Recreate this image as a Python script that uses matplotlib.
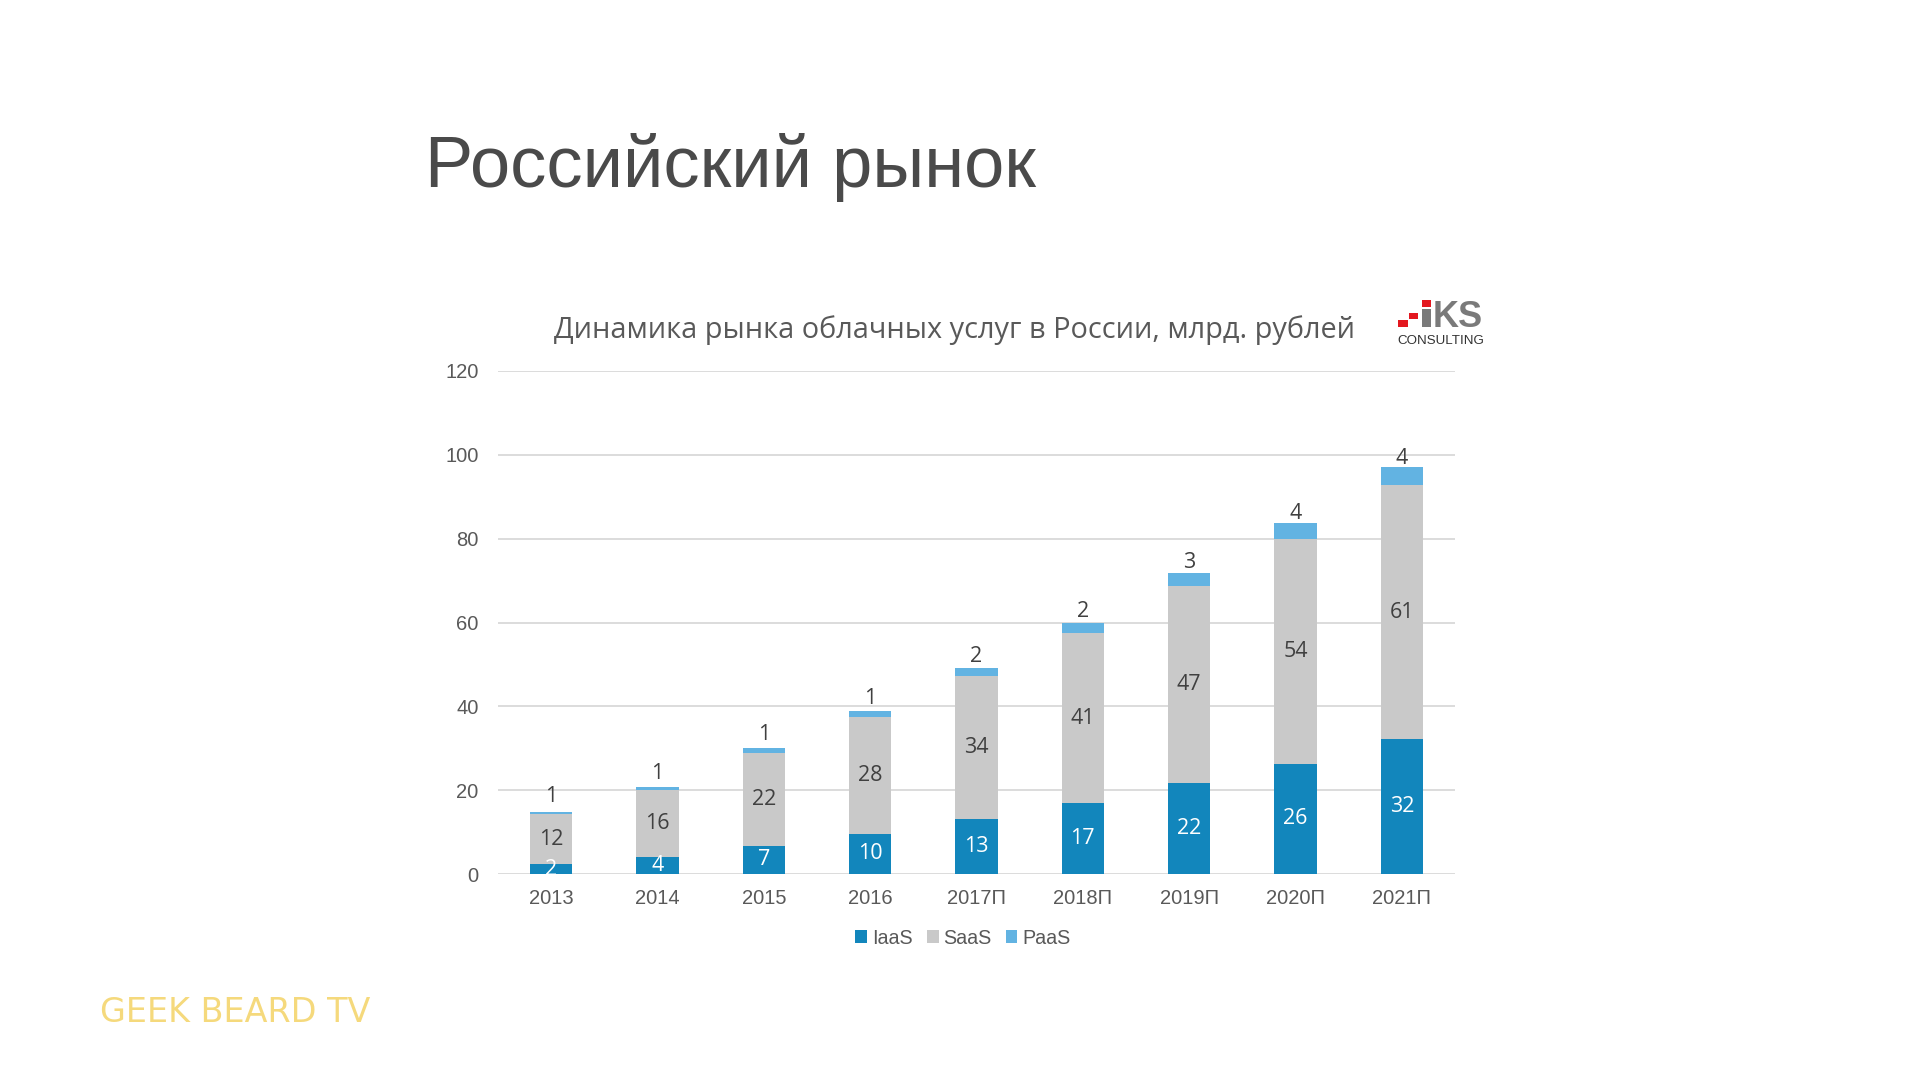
import matplotlib
matplotlib.use("Agg")
import matplotlib.pyplot as plt
from matplotlib.patches import Rectangle
import numpy as np

categories = ["2013", "2014", "2015", "2016", "2017П", "2018П", "2019П", "2020П", "2021П"]
iaas = [2.3, 4.1, 6.7, 9.6, 13.1, 16.9, 21.6, 26.3, 32.1]
saas = [12.0, 16.0, 22.2, 27.8, 34.2, 40.6, 47.0, 53.6, 60.6]
paas = [0.6, 0.6, 1.2, 1.4, 1.8, 2.4, 3.2, 3.8, 4.3]
series_names = ["IaaS", "SaaS", "PaaS"]
yticks = [0, 20, 40, 60, 80, 100, 120]

C_IAAS = "#1286BC"
C_SAAS = "#C9C9C9"
C_PAAS = "#62B3E2"
GRAY_TXT = "#595959"
DARK_TXT = "#404040"

arial = ["Liberation Sans", "DejaVu Sans"]
calib = ["Open Sans", "Noto Sans", "DejaVu Sans"]

fig = plt.figure(figsize=(19.2, 10.8), dpi=100)
fig.patch.set_facecolor("white")

# Slide title
fig.text(425 / 1920, 1 - 187 / 1080, "Российский рынок", family=arial,
         fontsize=52, color="#4A4A4A", ha="left", va="baseline")

# Chart title
fig.text(955 / 1920, 1 - 338 / 1080, "Динамика рынка облачных услуг в России, млрд. рублей",
         family=calib, fontsize=20.8, color=GRAY_TXT, ha="center", va="baseline")

ax = fig.add_axes([498 / 1920, 1 - 874 / 1080, (1455 - 498) / 1920, (874 - 371) / 1080])
x = np.arange(len(categories))
w = 0.395
iaas_a = np.array(iaas)
saas_a = np.array(saas)
paas_a = np.array(paas)

ax.bar(x, iaas_a, w, color=C_IAAS, label=series_names[0], zorder=3)
ax.bar(x, saas_a, w, bottom=iaas_a, color=C_SAAS, label=series_names[1], zorder=3)
ax.bar(x, paas_a, w, bottom=iaas_a + saas_a, color=C_PAAS, label=series_names[2], zorder=3)

for i in range(len(categories)):
    ax.text(x[i], iaas_a[i] / 2, f"{iaas_a[i]:.0f}", ha="center", va="center",
            family=calib, fontsize=15.5, color="white", zorder=4)
    ax.text(x[i], iaas_a[i] + saas_a[i] / 2, f"{saas_a[i]:.0f}", ha="center", va="center",
            family=calib, fontsize=15.5, color=DARK_TXT, zorder=4)
    top = iaas_a[i] + saas_a[i] + paas_a[i]
    ax.annotate(f"{paas_a[i]:.0f}", (x[i], top), xytext=(0, 3 - 0.5 * i), textcoords="offset points",
                ha="center", va="bottom", family=calib, fontsize=15.5, color=DARK_TXT, zorder=4)

ax.set_xlim(-0.5, len(categories) - 0.5)
ax.set_ylim(0, 120)
ax.set_yticks(yticks)
ax.set_xticks(x)
ax.set_xticklabels(categories)
ax.grid(axis="y", color="#D9D9D9", linewidth=1.3, zorder=0)
for s in ax.spines.values():
    s.set_visible(False)
ax.tick_params(axis="both", length=0, labelsize=14.5, labelcolor=GRAY_TXT)
ax.tick_params(axis="y", pad=14)
ax.tick_params(axis="x", pad=11)
for lab in ax.get_xticklabels() + ax.get_yticklabels():
    lab.set_family(arial)

leg = fig.legend(loc="center", bbox_to_anchor=(963 / 1920, 1 - 938 / 1080), ncol=3,
                 frameon=False, handlelength=0.6, handleheight=0.6, handletextpad=0.25,
                 columnspacing=0.7, prop={"family": arial, "size": 14.2})
for t in leg.get_texts():
    t.set_color(GRAY_TXT)

# IKS Consulting logo
def box(x0, y0, x1, y1, color):
    fig.add_artist(Rectangle((x0 / 1920, 1 - y1 / 1080), (x1 - x0) / 1920, (y1 - y0) / 1080,
                             transform=fig.transFigure, color=color, lw=0))

box(1398, 320, 1408, 327, "#E3171F")
box(1409, 313, 1418, 319, "#E3171F")
box(1422, 300, 1431, 307, "#E3171F")
box(1422, 309, 1431, 327, "#7A7A7A")
fig.text(1433 / 1920, 1 - 327 / 1080, "KS", family=arial, fontsize=26, fontweight="bold",
         color="#7A7A7A", ha="left", va="baseline")
fig.text(1397 / 1920, 1 - 344 / 1080, "CONSULTING", family=arial, fontsize=9.6,
         color="#333333", ha="left", va="baseline")

# Watermark
fig.text(100 / 1920, 1 - 1012 / 1080, "GEEK BEARD TV", family=["DejaVu Sans"], fontsize=24,
         color="#F4D56E", ha="left", va="center", alpha=0.9)

fig.savefig("out.png", dpi=100, facecolor="white")
